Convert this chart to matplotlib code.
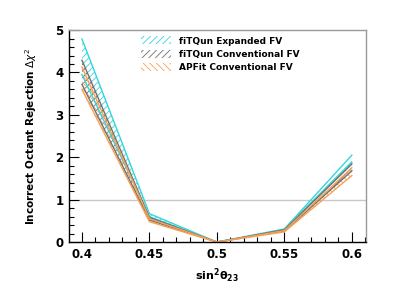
import matplotlib.pyplot as plt
from matplotlib.ticker import MultipleLocator

sin2 = [0.40, 0.45, 0.50, 0.55, 0.60]

# upper / lower edge of each band
fiq_exp_hi = [4.79, 0.67, 0.0, 0.31, 2.05]
fiq_exp_lo = [3.95, 0.60, 0.0, 0.28, 1.88]
fiq_con_hi = [4.29, 0.58, 0.0, 0.29, 1.84]
fiq_con_lo = [3.72, 0.52, 0.0, 0.26, 1.68]
apf_con_hi = [4.13, 0.55, 0.0, 0.27, 1.75]
apf_con_lo = [3.60, 0.48, 0.0, 0.24, 1.57]

labels = ['fiTQun Expanded FV', 'fiTQun Conventional FV', 'APFit Conventional FV']
colors = ['#33d6dc', '#707070', '#f7a055']
hatches = ['/////', '/////', '\\\\\\\\\\']

plt.rcParams['hatch.linewidth'] = 0.6
fig = plt.figure(figsize=(4.07, 2.92), dpi=100)
ax = fig.add_axes([0.1695, 0.171, 0.7295, 0.726])

bands = [(fiq_exp_lo, fiq_exp_hi), (fiq_con_lo, fiq_con_hi), (apf_con_lo, apf_con_hi)]
for (lo, hi), c, h, lab in zip(bands, colors, hatches, labels):
    ax.fill_between(sin2, lo, hi, facecolor='none', edgecolor=c, hatch=h,
                    linewidth=0, label=lab)
    ax.plot(sin2, hi, color=c, lw=1)
    ax.plot(sin2, lo, color=c, lw=1)

ax.axhline(1, color='#c8c8c8', lw=1, zorder=0)

ax.set_xlim(0.3904, 0.6104)
ax.set_ylim(0, 5)
ax.xaxis.set_major_locator(MultipleLocator(0.05))
ax.xaxis.set_minor_locator(MultipleLocator(0.01))
ax.yaxis.set_major_locator(MultipleLocator(1))
ax.yaxis.set_minor_locator(MultipleLocator(0.2))
ax.set_xticks([0.4, 0.45, 0.5, 0.55, 0.6])
ax.set_xticklabels(['0.4', '0.45', '0.5', '0.55', '0.6'])
ax.tick_params(which='both', direction='in', top=False, right=False,
               labelsize=8.5, pad=4)
ax.tick_params(which='major', length=7, width=0.8)
ax.tick_params(which='minor', length=3.5, width=0.8)
for lab in ax.get_xticklabels() + ax.get_yticklabels():
    lab.set_fontweight('bold')
for s in ['top', 'right']:
    ax.spines[s].set_color('#999999')
for s in ax.spines.values():
    s.set_linewidth(1)

ax.set_xlabel(r'$\mathbf{sin^{2}\theta_{23}}$', fontsize=8)
ax.set_ylabel(r'Incorrect Octant Rejection $\Delta\chi^{2}$', fontsize=7.5,
              fontweight='bold', labelpad=12)

leg = ax.legend(loc='upper left', bbox_to_anchor=(0.22, 1.0), frameon=False,
                fontsize=6.5, handlelength=3.4, handleheight=1.0,
                labelspacing=0.45, borderaxespad=0.3)
for t in leg.get_texts():
    t.set_fontweight('bold')

fig.savefig('out.png', dpi=100)
